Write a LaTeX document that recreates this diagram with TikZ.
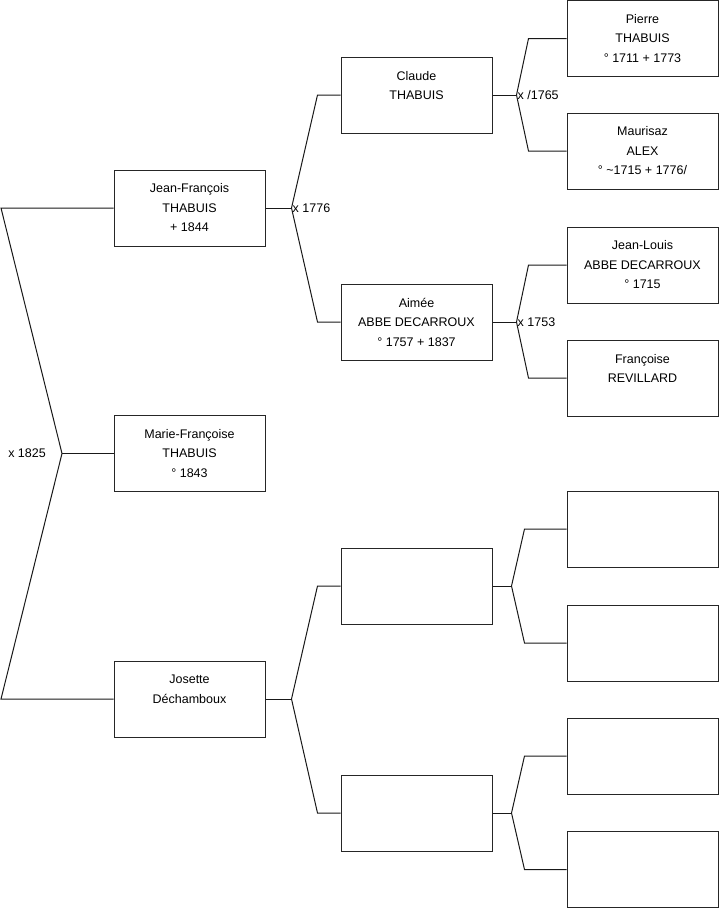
\documentclass[tikz,border=0pt]{standalone}
\usepackage{fontspec}
\setmainfont{Liberation Sans}
\usepackage{tikz}
\usetikzlibrary{positioning}

\begin{document}
\begin{tikzpicture}[x=1pt, y=-1pt,
    every node/.style={font=\fontsize{12.5}{19.5}\selectfont},
    person/.style={draw=black!85, line width=1pt, minimum width=151pt,
        minimum height=76pt, inner sep=0pt, align=center},
    link/.style={black!90, line width=1pt},
    mariage/.style={inner sep=1pt, anchor=west}]
    \useasboundingbox (0,0) rectangle (719,908);
    % generation 1
    \node[person] (jf)  at (189.5,208) {Jean-François\\THABUIS\\+ 1844};
    \node[person] (mf)  at (189.5,453.5) {Marie-Françoise\\THABUIS\\° 1843};
    \node[person] (jos) at (189.5,699) {Josette\\Déchamboux\\\mbox{}};
    % generation 2
    \node[person] (claude) at (416.5,95) {Claude\\THABUIS\\\mbox{}};
    \node[person] (aimee)  at (416.5,322) {Aimée\\ABBE DECARROUX\\° 1757 + 1837};
    \node[person] (ea)     at (416.5,586) {};
    \node[person] (eb)     at (416.5,813) {};
    % generation 3
    \node[person] (pierre)   at (642.5,38.5) {Pierre\\THABUIS\\° 1711 + 1773};
    \node[person] (maurisaz) at (642.5,151) {Maurisaz\\ALEX\\° \textasciitilde1715 + 1776/};
    \node[person] (jl)       at (642.5,265) {Jean-Louis\\ABBE DECARROUX\\° 1715};
    \node[person] (fr)       at (642.5,378) {Françoise\\REVILLARD\\\mbox{}};
    \node[person] (ec) at (642.5,529) {};
    \node[person] (ed) at (642.5,643) {};
    \node[person] (ee) at (642.5,756) {};
    \node[person] (ef) at (642.5,869.5) {};

    % couple of generation 1
    \coordinate (jfL)  at (1,208);
    \coordinate (josL) at (1,699);
    \coordinate (j0)   at (62,453.5);
    \draw[link] (jf.west) -- (jfL) -- (j0) -- (josL) -- (jos.west);
    \draw[link] (j0) -- (mf.west);
    \node[anchor=east, inner sep=1pt] at ([xshift=-15pt]j0) {x 1825};

    % parents of generation 1
    \foreach \c/\a/\b in {jf/claude/aimee, jos/ea/eb} {
        \coordinate[right=26pt of \c] (j\c);
        \draw[link] (\c.east) -- (j\c);
        \draw[link] (j\c) -- ([xshift=-23pt]\a.west) -- (\a.west);
        \draw[link] (j\c) -- ([xshift=-23pt]\b.west) -- (\b.west);
    }
    \node[mariage] at (jjf) {x 1776};

    % parents of generation 2
    \foreach \c/\a/\b/\d/\e in {claude/pierre/maurisaz/24/38, aimee/jl/fr/24/38,
                                ea/ec/ed/19/42, eb/ee/ef/19/42} {
        \coordinate[right=\d pt of \c] (j\c);
        \draw[link] (\c.east) -- (j\c);
        \draw[link] (j\c) -- ([xshift=-\e pt]\a.west) -- (\a.west);
        \draw[link] (j\c) -- ([xshift=-\e pt]\b.west) -- (\b.west);
    }
    \node[mariage] at (jclaude) {x /1765};
    \node[mariage] at (jaimee) {x 1753};
\end{tikzpicture}
\end{document}
